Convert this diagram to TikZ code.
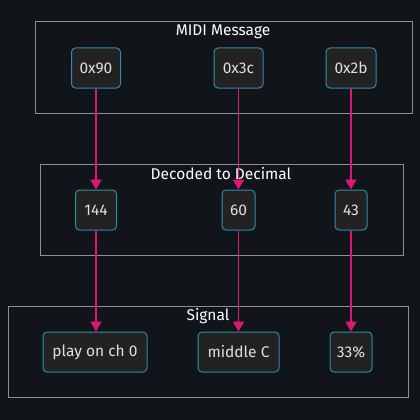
\documentclass[tikz,border=0pt]{standalone}
\usepackage{fontspec}
\setmainfont{Fira Sans}
\usetikzlibrary{arrows.meta}
\definecolor{bg}{HTML}{111519}
\definecolor{clborder}{HTML}{8A9196}
\definecolor{nodefill}{HTML}{222222}
\definecolor{nodeborder}{HTML}{2B8CA8}
\definecolor{txt}{HTML}{E0E0E0}
\definecolor{edge}{HTML}{E0157A}
\tikzset{
  cluster/.style={draw=clborder, line width=1pt},
  cltitle/.style={text=white, font=\fontsize{15.5}{18}\selectfont, inner sep=0pt, anchor=center},
  box/.style={draw=nodeborder, fill=nodefill, rounded corners=4pt, line width=1pt, text=txt,
    font=\fontsize{15.5}{18}\selectfont, minimum height=40pt, inner xsep=0pt, anchor=center},
  link/.style={draw=edge, line width=1.6pt, -{Triangle[length=10pt,width=11pt]}}
}
\begin{document}
\begin{tikzpicture}[x=1pt,y=-1pt]
\fill[bg] (0,0) rectangle (420,420);
\useasboundingbox (0,0) rectangle (420,420);
% clusters
\draw[cluster] (35,22) rectangle (412,113);
\node[cltitle] (t1) at (223,32) {MIDI Message};
\draw[cluster] (40,164) rectangle (403,255);
\node[cltitle] (t2) at (221,174) {Decoded to Decimal};
\draw[cluster] (8,306) rectangle (408,397);
\node[cltitle] (t3) at (208,316) {Signal};
% nodes
\node[box, minimum width=49pt] (a1) at (96,68) {0x90};
\node[box, minimum width=49pt] (a2) at (238.5,68) {0x3c};
\node[box, minimum width=50pt] (a3) at (351,68) {0x2b};
\node[box, minimum width=41pt] (b1) at (96,210) {144};
\node[box, minimum width=33pt] (b2) at (238.5,210) {60};
\node[box, minimum width=32pt] (b3) at (351,210) {43};
\node[box, minimum width=104pt] (c1) at (95,352) {play on ch 0};
\node[box, minimum width=81pt] (c2) at (238.5,352) {middle C};
\node[box, minimum width=42pt] (c3) at (351,352) {33\%};
% links
\draw[link] (a1) -- (b1);
\draw[link] (a2) -- (b2);
\draw[link] (a3) -- (b3);
\draw[link] (b1) -- (b1 |- c1.north);
\draw[link] (b2) -- (b2 |- c2.north);
\draw[link] (b3) -- (c3);
\end{tikzpicture}
\end{document}
